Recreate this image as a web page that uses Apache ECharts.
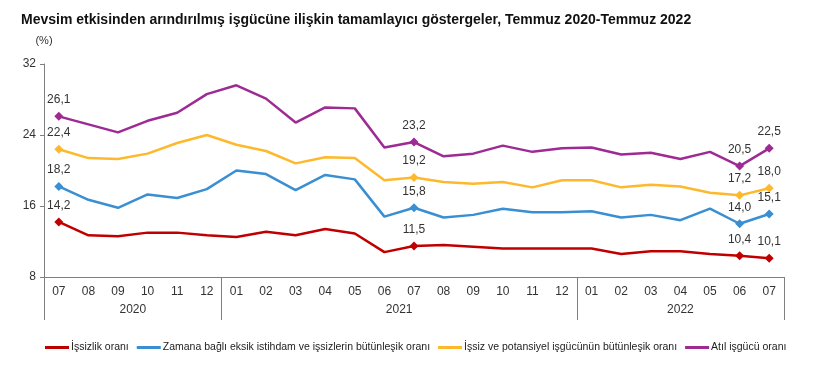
<!DOCTYPE html>
<html>
<head>
<meta charset="utf-8">
<script src="https://cdn.jsdelivr.net/npm/echarts@6/dist/echarts.min.js"></script>
<style>
  html, body { margin: 0; padding: 0; background: #fff; }
  #chart { width: 816px; height: 377px; }
</style>
</head>
<body>
<div id="chart"></div>
<script>
// ay etiketleri (Temmuz 2020 - Temmuz 2022)
const months = ['07','08','09','10','11','12','01','02','03','04','05','06','07','08','09','10','11','12','01','02','03','04','05','06','07']
const years = ['2020', '2021', '2022']
const yearCenters = [3, 12, 21.5]
const yearBounds = [0, 6, 18, 25]

const issizlik = [14.2, 12.7, 12.6, 13.0, 13.0, 12.7, 12.5, 13.1, 12.7, 13.4, 12.9, 10.8, 11.5, 11.6, 11.4, 11.2, 11.2, 11.2, 11.2, 10.6, 10.9, 10.9, 10.6, 10.4, 10.1]
const zamanaBagli = [18.2, 16.7, 15.8, 17.3, 16.9, 17.9, 20.0, 19.6, 17.8, 19.5, 19.0, 14.8, 15.8, 14.7, 15.0, 15.7, 15.3, 15.3, 15.4, 14.7, 15.0, 14.4, 15.7, 14.0, 15.1]
const potansiyel = [22.4, 21.4, 21.3, 21.9, 23.1, 24.0, 22.9, 22.2, 20.8, 21.5, 21.4, 18.9, 19.2, 18.7, 18.5, 18.7, 18.1, 18.9, 18.9, 18.1, 18.4, 18.2, 17.5, 17.2, 18.0]
const atil = [26.1, 25.2, 24.3, 25.6, 26.5, 28.6, 29.6, 28.1, 25.4, 27.1, 27.0, 22.6, 23.2, 21.6, 21.9, 22.8, 22.1, 22.5, 22.6, 21.8, 22.0, 21.3, 22.1, 20.5, 22.5]

// etiketli noktalar
const labelled = [0, 12, 23, 24]

const names = [
  'İşsizlik oranı',
  'Zamana bağlı eksik istihdam ve işsizlerin bütünleşik oranı',
  'İşsiz ve potansiyel işgücünün bütünleşik oranı',
  'Atıl işgücü oranı'
]
const colors = ['#c00000', '#3a8fd2', '#fdb92b', '#9e2a94']
const seriesData = [issizlik, zamanaBagli, potansiyel, atil]

const font = 'Liberation Sans, Arial, sans-serif'

function makeSeries(arr, i) {
  return {
    name: names[i],
    type: 'line',
    data: arr.map((v, k) => labelled.includes(k)
      ? { value: v, symbol: 'diamond', symbolSize: 9, label: { show: true } }
      : { value: v, symbol: 'none' }),
    lineStyle: { width: 2.5, color: colors[i] },
    itemStyle: { color: colors[i] },
    label: {
      show: false,
      position: 'top',
      distance: 6,
      color: '#333',
      fontSize: 12,
      fontFamily: font,
      formatter: p => p.value.toFixed(1).replace('.', ',')
    },
    emphasis: { disabled: true },
    animation: false,
    z: 3
  }
}

const chart = echarts.init(document.getElementById('chart'))
chart.setOption({
  animation: false,
  title: {
    text: 'Mevsim etkisinden arındırılmış işgücüne ilişkin tamamlayıcı göstergeler, Temmuz 2020-Temmuz 2022',
    left: 16, top: 8,
    textStyle: { fontFamily: font, fontSize: 14, fontWeight: 'bold', color: '#111' }
  },
  legend: {
    left: 40, top: 337,
    icon: 'rect',
    itemWidth: 24, itemHeight: 3, itemGap: 8,
    textStyle: { fontFamily: font, fontSize: 10.5, color: '#222', padding: [0, 0, 0, -3] },
    data: names
  },
  grid: { left: 44, right: 32, top: 64, bottom: 100 },
  xAxis: [{
    type: 'category',
    data: months,
    boundaryGap: true,
    axisLine: { lineStyle: { color: '#7f7f7f', width: 1 } },
    axisTick: { show: false },
    axisLabel: { color: '#333', fontSize: 12, fontFamily: font, margin: 9, interval: 0 }
  }, {
    type: 'value',
    position: 'bottom',
    min: 0, max: 25,
    axisLine: { show: false },
    splitLine: { show: false },
    axisTick: { show: true, customValues: yearBounds, length: 43, lineStyle: { color: '#7f7f7f' } },
    axisLabel: {
      customValues: yearCenters,
      margin: 27,
      color: '#333', fontSize: 12, fontFamily: font,
      formatter: v => years[yearCenters.indexOf(v)] ?? ''
    }
  }],
  yAxis: {
    type: 'value',
    min: 8, max: 32, interval: 8,
    name: '(%)',
    nameLocation: 'end',
    nameGap: 18,
    nameTextStyle: { fontFamily: font, fontSize: 11, color: '#333', align: 'center' },
    axisLine: { show: true, lineStyle: { color: '#7f7f7f' } },
    axisTick: { show: true, length: 4, lineStyle: { color: '#7f7f7f' } },
    splitLine: { show: false },
    axisLabel: { color: '#333', fontSize: 12, fontFamily: font, margin: 8 }
  },
  series: seriesData.map(makeSeries)
})
</script>
</body>
</html>
